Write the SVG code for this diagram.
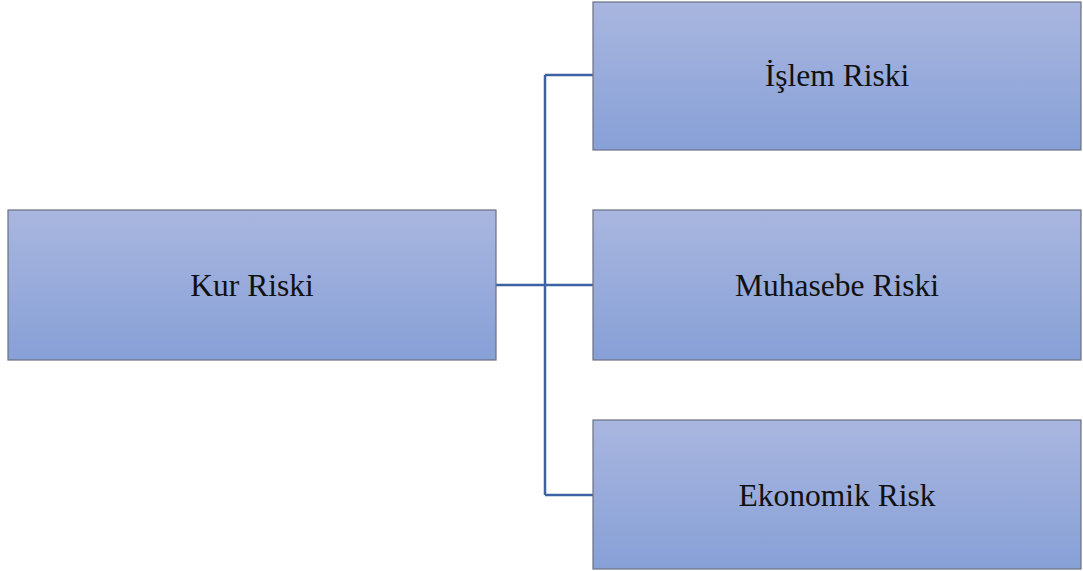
<svg xmlns="http://www.w3.org/2000/svg" width="1083" height="571" viewBox="0 0 1083 571">
<defs>
<linearGradient id="g" x1="0" y1="0" x2="0" y2="1">
<stop offset="0" stop-color="#a9b6df"/>
<stop offset="1" stop-color="#87a0d7"/>
</linearGradient>
</defs>
<style>
.box{fill:url(#g);stroke:#6b7080;stroke-width:1.2}
.lbl{font-family:"Liberation Serif","Times New Roman",serif;font-size:31.5px;fill:#111;text-anchor:middle;dominant-baseline:central}
.con{fill:none;stroke:#3d62a3;stroke-width:2.5}
</style>
<rect width="1083" height="571" fill="#fff"/>
<g id="connectors">
<path class="con" d="M496 285H545M545 75V495M545 75H593M545 285H593M545 495H593"/>
</g>
<g id="kur">
<rect class="box" x="8" y="210" width="488" height="150"/>
<text class="lbl" x="252" y="285">Kur Riski</text>
</g>
<g id="islem">
<rect class="box" x="593" y="2" width="488" height="148"/>
<text class="lbl" x="837" y="75">İşlem Riski</text>
</g>
<g id="muhasebe">
<rect class="box" x="593" y="210" width="488" height="150"/>
<text class="lbl" x="837" y="285">Muhasebe Riski</text>
</g>
<g id="ekonomik">
<rect class="box" x="593" y="420" width="488" height="149"/>
<text class="lbl" x="837" y="495">Ekonomik Risk</text>
</g>
</svg>
